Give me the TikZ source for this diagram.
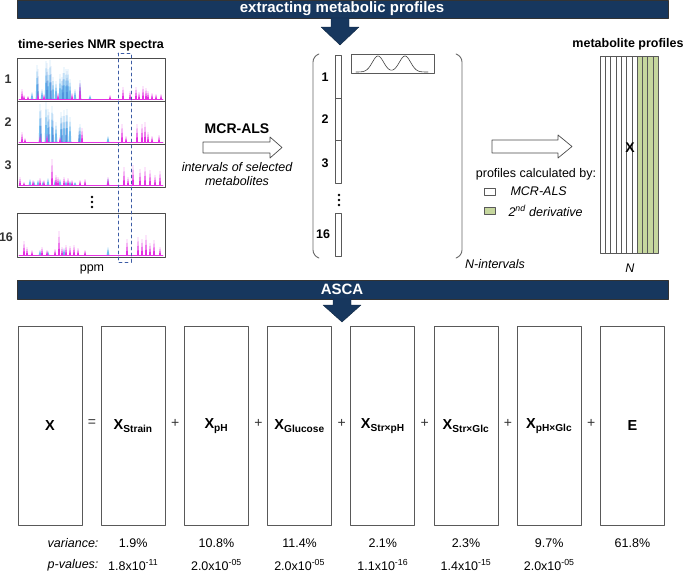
\documentclass[tikz,border=0pt]{standalone}
\usepackage{fontspec}
\setmainfont{Liberation Sans}
\usetikzlibrary{positioning}
\definecolor{navy}{RGB}{23,55,94}
\definecolor{specmag}{RGB}{228,50,225}
\definecolor{speccyan}{RGB}{70,165,232}
\definecolor{specblue}{RGB}{60,120,210}
\definecolor{dashblue}{RGB}{60,92,165}
\definecolor{derivgreen}{RGB}{198,215,158}

\begin{document}
\begin{tikzpicture}[x=1pt,y=-1pt,line cap=round,line join=round,
  banner/.style={draw=black!80,fill=navy,line width=0.5pt},
  bannerlabel/.style={text=white,font=\fontsize{15}{17}\selectfont\bfseries},
  navyarrow/.style={fill=navy,draw=navy!70!black,line width=0.4pt},
  hollowarrow/.style={draw=black!70,fill=white,line width=0.7pt},
  heading/.style={font=\fontsize{12.5}{14}\selectfont\bfseries},
  plain/.style={font=\fontsize{12.5}{14}\selectfont},
  slant/.style={font=\fontsize{12.5}{14.5}\selectfont\itshape},
  panel/.style={draw=black!70,line width=0.9pt},
  thinbox/.style={draw=black!65,line width=0.6pt},
  term/.style={draw=black!65,line width=0.8pt,minimum width=64,minimum height=199,inner sep=0pt,font=\fontsize{14.5}{16}\selectfont\bfseries}]
  \useasboundingbox (0,0) rectangle (685,573);

  \draw[banner] (17,0) rectangle (668,18);
  \node[bannerlabel] (band1) at (342,9) {extracting metabolic profiles};
  \draw[navyarrow] (331,18) -- (349,18) -- (349,27) -- (359,27) -- (340,45) -- (321,27) -- (331,27) -- cycle;

  \node[heading] (spectitle) at (91,45) {time-series NMR spectra};
  \begin{scope}[shift={(0,99)}]
    \foreach \x/\h in {32/7,37/34,42/10,46/38,48/30,50/39,53/22,56/18,60/25,62/22,64/32,66/30,68/30,70/20,75/10,80/19,90/4}
      \fill[speccyan,opacity=0.75] (\x-1.3,0) -- (\x,-\h) -- (\x+1.3,0) -- cycle;
    \foreach \x/\h in {38/30,47/36,51/33,63/26,67/28,80/14}
      \fill[specblue,opacity=0.6] (\x-1,0) -- (\x,-\h) -- (\x+1,0) -- cycle;
    \foreach \x/\h in {22/10,24/4,28/3,38/6,44/5,58/6,72/6,80/16,110/4,123/12,130/8,136/12,139/7,143/13,146/11,148/8,152/6,156/5,161/5}
      \fill[specmag] (\x-1,0) -- (\x,-\h) -- (\x+1,0) -- cycle;
    \draw[specmag,line width=0.8pt] (19,0) -- (163,0);
  \end{scope}
  \begin{scope}[shift={(0,142)}]
    \foreach \x/\h in {40/38,46/40,48/33,52/36,56/20,61/30,64/32,67/33,70/25,80/18,108/6}
      \fill[speccyan,opacity=0.75] (\x-1.3,0) -- (\x,-\h) -- (\x+1.3,0) -- cycle;
    \foreach \x/\h in {41/32,49/30,53/28,62/26,66/27,79/14}
      \fill[specblue,opacity=0.6] (\x-1,0) -- (\x,-\h) -- (\x+1,0) -- cycle;
    \foreach \x/\h in {22/10,25/4,40/7,47/8,60/5,82/14,122/18,126/6,137/18,142/18,145/20,148/10,152/6,159/7}
      \fill[specmag] (\x-1,0) -- (\x,-\h) -- (\x+1,0) -- cycle;
    \draw[specmag,line width=0.8pt] (19,0) -- (163,0);
  \end{scope}
  \begin{scope}[shift={(0,185)}]
    \foreach \x/\h in {30/6,34/4,38/5,43/4,48/7,55/5,60/6,66/4,70/4,75/3,108/7}
      \fill[speccyan,opacity=0.75] (\x-1.3,0) -- (\x,-\h) -- (\x+1.3,0) -- cycle;
    \foreach \x/\h in {20/8,24/3,33/5,40/7,44/5,52/26,56/10,58/8,64/8,68/7,72/5,80/5,85/6,108/8,124/18,128/8,133/20,140/16,145/18,150/15,155/10,160/14}
      \fill[specmag] (\x-1,0) -- (\x,-\h) -- (\x+1,0) -- cycle;
    \draw[specmag,line width=0.8pt] (19,0) -- (163,0);
  \end{scope}
  \begin{scope}[shift={(0,255)}]
    \foreach \x/\h in {40/5,48/4,64/7,108/8}
      \fill[speccyan,opacity=0.75] (\x-1.3,0) -- (\x,-\h) -- (\x+1.3,0) -- cycle;
    \foreach \x/\h in {24/14,27/8,32/5,42/8,47/5,55/6,59/24,62/8,66/10,70/9,74/10,78/7,85/5,127/16,138/18,142/16,146/20,150/12,154/15,160/8}
      \fill[specmag] (\x-1,0) -- (\x,-\h) -- (\x+1,0) -- cycle;
    \draw[specmag,line width=0.8pt] (19,0) -- (163,0);
  \end{scope}
  \draw[panel] (17,58) rectangle (165,101) (17,101) rectangle (165,144) (17,144) rectangle (165,187);
  \draw[panel] (17,213) rectangle (165,257);
  \draw[dashblue,dashed,line width=0.8pt] (118,53) rectangle (131,262);
  \node[heading,black!80] (sp1) at (8,79) {1};
  \node[heading,black!80] (sp2) at (8,122) {2};
  \node[heading,black!80] (sp3) at (8,165) {3};
  \node[heading,black!80] (sp16) at (6,237) {16};
  \foreach \y in {197,202,207} \fill (92,\y) circle (1.4);
  \node[plain] (ppm) at (92,269) {ppm};

  \node[font=\fontsize{14}{16}\selectfont\bfseries] (mcr) at (237,129) {MCR-ALS};
  \draw[hollowarrow] (203,142) -- (270,142) -- (270,137) -- (282,147.5) -- (270,158) -- (270,153) -- (203,153) -- cycle;
  \node[slant,align=center] (sel) at (237,174) {intervals of selected\\metabolites};

  \draw[black!60,line width=0.9pt,rounded corners=6] (319,54) -- (313,56) -- (313,256) -- (319,258);
  \draw[black!60,line width=0.9pt,rounded corners=6] (456,54) -- (462,56) -- (462,256) -- (456,258);
  \draw[thinbox] (335,55) rectangle (341,98) (335,98) rectangle (341,140) (335,140) rectangle (341,183) (335,213) rectangle (341,256);
  \node[heading] (iv1) at (325,77) {1};
  \node[heading] (iv2) at (325,119) {2};
  \node[heading] (iv3) at (325,163) {3};
  \node[heading] (iv16) at (323,234) {16};
  \foreach \y in {195,200,205} \fill (339,\y) circle (1.4);
  \draw[thinbox] (351,54) rectangle (434,73);
  \draw[black!75,line width=0.6pt] plot[domain=356:428,samples=90] (\x,{72-16*(exp(-pow((\x-378)/8,2))+exp(-pow((\x-405)/8,2)))});
  \node[slant] (nint) at (495,264) {N-intervals};

  \draw[hollowarrow] (492,140) -- (558,140) -- (558,135) -- (572,146.5) -- (558,158) -- (558,153) -- (492,153) -- cycle;
  \node[plain] (calc) at (536,174) {profiles calculated by:};
  \draw[thinbox] (484,188) rectangle (495,195);
  \draw[thinbox,fill=derivgreen] (484,207) rectangle (495,214);
  \node[slant,anchor=west] (lmcr) at (507,191) {MCR-ALS};
  \node[slant,anchor=west] (lder) at (505,211) {2\textsuperscript{nd} derivative};

  \node[heading] (mptitle) at (628,44) {metabolite profiles};
  \foreach \i in {0,...,6} \draw[thinbox] ({600+5.3*\i},56) rectangle ++(5.3,197);
  \foreach \i in {7,...,10} \draw[thinbox,fill=derivgreen] ({600+5.3*\i},56) rectangle ++(5.3,197);
  \node[font=\fontsize{14}{16}\selectfont\bfseries] (xmat) at (630,148) {X};
  \node[slant] (ncount) at (630,268) {N};

  \draw[banner] (17,280) rectangle (668,299);
  \node[bannerlabel] (band2) at (342,289.5) {ASCA};
  \draw[navyarrow] (333,299) -- (351,299) -- (351,305) -- (361,305) -- (342,322) -- (323,305) -- (333,305) -- cycle;

  \foreach \i/\lab in {0/X,1/X\textsubscript{Strain},2/X\textsubscript{pH},3/X\textsubscript{Glucose},4/X\textsubscript{Str×pH},5/X\textsubscript{Str×Glc},6/X\textsubscript{pH×Glc},7/E}
    \node[term] (t\i) at ({50+83.2*\i},426) {\lab};
  \node[font=\fontsize{14}{16}\selectfont,black!80] (o1) at (92,423) {=};
  \foreach \i in {2,...,7} \node[font=\fontsize{14}{16}\selectfont,black!80] (o\i) at ({92+83.2*(\i-1)},423) {+};

  \node[slant,anchor=east] (varlab) at (102,543) {variance:};
  \node[slant,anchor=east] (plab) at (102,565) {p-values:};
  \foreach \i/\v in {1/1.9\%,2/10.8\%,3/11.4\%,4/2.1\%,5/2.3\%,6/9.7\%,7/61.8\%}
    \node[plain] (v\i) at ({50+83.2*\i},543) {\v};
  \foreach \i/\p in {1/1.8x10\textsuperscript{-11},2/2.0x10\textsuperscript{-05},3/2.0x10\textsuperscript{-05},4/1.1x10\textsuperscript{-16},5/1.4x10\textsuperscript{-15},6/2.0x10\textsuperscript{-05}}
    \node[plain] (p\i) at ({50+83.2*\i},565) {\p};
\end{tikzpicture}
\end{document}
